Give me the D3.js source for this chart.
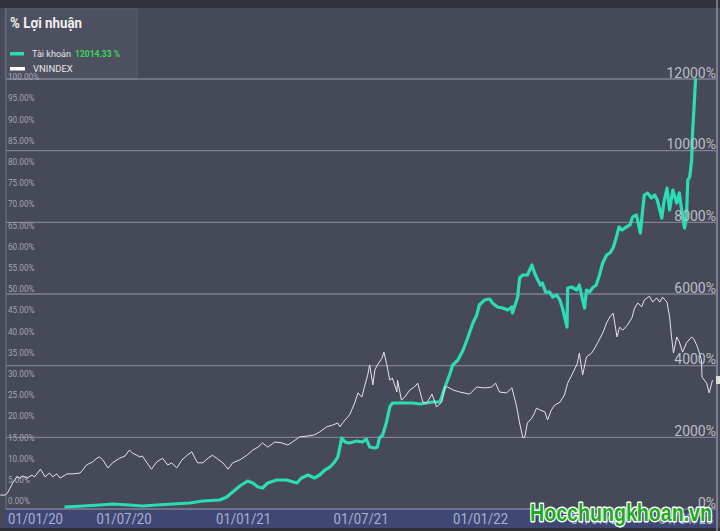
<!DOCTYPE html>
<html><head><meta charset="utf-8">
<script src="https://cdn.jsdelivr.net/npm/d3@7"></script>
<style>
html,body{margin:0;padding:0;background:#464957;}
svg{display:block;font-family:Roboto,"Noto Sans",sans-serif;}
</style></head><body>
<svg id="c" width="720" height="531"></svg>
<script>
const legendTitle = "% Lợi nhuận";
const seriesNames = ["Tài khoản", "VNINDEX"];
const lastReturnLabel = "12014.33 %";
const watermark = "Hocchungkhoan.vn";

const leftTicks = [0,5,10,15,20,25,30,35,40,45,50,55,60,65,70,75,80,85,90,95,100];
const rightTicks = [0,2000,4000,6000,8000,10000,12000];
const xTicks = ["2020-01-01","2020-07-01","2021-01-01","2021-07-01","2022-01-01","2022-07-01","2023-01-01"];

const vnDates = ["2019-12-24","2020-01-01","2020-01-05","2020-01-13","2020-01-19","2020-01-23","2020-01-28","2020-02-03","2020-02-11","2020-02-15",
"2020-02-24","2020-03-02","2020-03-09","2020-03-14","2020-03-20","2020-03-25","2020-04-05","2020-04-14","2020-04-25","2020-04-29",
"2020-05-05","2020-05-14","2020-05-21","2020-05-25","2020-05-30","2020-06-07","2020-06-14","2020-06-25","2020-07-03","2020-07-10",
"2020-07-15","2020-07-26","2020-07-30","2020-08-06","2020-08-13","2020-08-21","2020-08-30","2020-09-07","2020-09-13","2020-09-21",
"2020-09-29","2020-10-07","2020-10-14","2020-10-19","2020-10-23","2020-10-31","2020-11-08","2020-11-15","2020-11-23","2020-12-01",
"2020-12-09","2020-12-16","2020-12-27",
"2021-01-07","2021-01-16","2021-01-24","2021-01-31","2021-02-08","2021-02-19","2021-03-02","2021-03-11","2021-03-18","2021-03-29",
"2021-04-09","2021-04-21","2021-04-29","2021-05-10","2021-05-19","2021-05-27","2021-05-30","2021-06-07","2021-06-14","2021-06-22",
"2021-06-27","2021-07-03","2021-07-07","2021-07-12","2021-07-15","2021-07-20","2021-07-23","2021-07-27","2021-08-03","2021-08-06",
"2021-08-10","2021-08-15","2021-08-19","2021-08-26","2021-08-27","2021-09-02","2021-09-07","2021-09-15","2021-09-22","2021-09-27",
"2021-10-05","2021-10-11","2021-10-19","2021-10-26","2021-11-03","2021-11-08","2021-11-12","2021-11-20","2021-12-01","2021-12-16",
"2021-12-27",
"2022-01-05","2022-01-11","2022-01-19","2022-01-25","2022-01-31","2022-02-11","2022-02-19","2022-02-26","2022-03-03","2022-03-08",
"2022-03-11","2022-03-15","2022-03-22","2022-03-26","2022-03-29","2022-04-03","2022-04-11","2022-04-15","2022-04-21","2022-04-26",
"2022-05-04","2022-05-11","2022-05-16","2022-05-24","2022-05-31","2022-06-03","2022-06-08","2022-06-14","2022-06-22","2022-06-27",
"2022-07-01","2022-07-09","2022-07-15","2022-07-20","2022-07-25","2022-07-31","2022-08-04","2022-08-09","2022-08-16","2022-08-23",
"2022-08-27","2022-09-01","2022-09-07","2022-09-11","2022-09-19","2022-09-24","2022-09-30","2022-10-05","2022-10-09","2022-10-16",
"2022-10-20","2022-10-23","2022-10-26","2022-10-31","2022-11-04","2022-11-09","2022-11-15","2022-11-23","2022-11-27","2022-12-02",
"2022-12-08","2022-12-09","2022-12-16","2022-12-20","2022-12-25"];
const vnValues = [1.4,1.4,2.1,4.5,5.7,5.4,5.9,5.4,6.1,5.7,
7.5,5.7,6.6,5.7,6.4,5.4,6.4,6.4,6.6,7.3,
8.5,9.2,10.1,10.4,9.7,7.8,9.0,10.1,10.6,12.0,
11.3,10.4,10.6,9.0,7.5,9.2,10.1,8.5,9.0,7.8,
9.7,10.8,11.6,10.1,9.0,9.0,10.1,10.8,9.9,9.0,
7.5,9.0,9.7,
10.8,12.0,12.7,13.7,12.7,13.9,13.7,13.2,13.9,15.1,
15.3,15.6,16.3,17.5,17.9,18.4,17.5,19.1,20.3,23.1,
25.5,24.5,26.9,29.7,32.1,27.4,30.9,32.1,33.7,35.1,
32.5,28.5,29.0,25.7,28.5,23.8,24.5,26.2,26.9,27.8,
23.3,23.1,25.2,22.2,23.3,26.9,26.9,26.2,25.7,25.2,
26.9,
26.7,26.7,26.9,27.8,25.7,25.5,26.7,22.6,18.4,14.9,
15.1,18.4,19.6,20.8,21.9,21.5,21.0,19.1,21.5,22.6,
23.3,25.0,27.8,30.2,32.5,34.9,29.7,34.0,34.9,36.1,
37.3,39.6,42.0,43.4,44.3,38.7,41.0,40.3,41.5,43.2,
45.5,46.7,45.8,47.4,48.3,46.9,47.9,46.9,48.1,46.9,
43.4,38.7,34.9,38.7,37.5,35.1,37.3,38.7,38.0,36.3,
33.3,29.2,27.8,25.5,28.5];

const accDates = ["2020-04-01","2020-04-29","2020-05-25","2020-06-14","2020-07-10","2020-07-30","2020-08-21","2020-09-15","2020-10-11","2020-10-31",
"2020-11-26","2020-12-07","2020-12-16","2020-12-27","2021-01-08","2021-01-16","2021-01-24","2021-01-31","2021-02-08","2021-02-22",
"2021-03-09","2021-03-25","2021-04-01","2021-04-11","2021-04-21","2021-04-29","2021-05-07","2021-05-15","2021-05-22","2021-05-27",
"2021-06-02","2021-06-07","2021-06-14","2021-06-25","2021-07-04","2021-07-10","2021-07-15","2021-07-23","2021-07-27","2021-07-30",
"2021-08-04","2021-08-10","2021-08-15","2021-08-19","2021-08-30","2021-09-10","2021-09-19","2021-09-30","2021-10-11","2021-10-20",
"2021-10-31","2021-11-03","2021-11-08","2021-11-15","2021-11-20","2021-11-28","2021-12-06","2021-12-13","2021-12-21","2021-12-27",
"2021-12-31","2022-01-08","2022-01-16","2022-01-20","2022-01-28","2022-02-05","2022-02-13","2022-02-19","2022-02-20","2022-02-23",
"2022-02-28","2022-03-03","2022-03-08","2022-03-15","2022-03-22","2022-03-26","2022-03-31","2022-04-04","2022-04-07","2022-04-12",
"2022-04-18","2022-04-23","2022-04-29","2022-05-04","2022-05-08","2022-05-15","2022-05-16","2022-05-22","2022-05-30","2022-06-03",
"2022-06-08","2022-06-11","2022-06-14","2022-06-19","2022-06-23","2022-06-29","2022-07-04","2022-07-09","2022-07-15","2022-07-20",
"2022-07-25","2022-07-31","2022-08-03","2022-08-08","2022-08-12","2022-08-20","2022-08-24","2022-08-30","2022-09-05","2022-09-08",
"2022-09-11","2022-09-16","2022-09-22","2022-09-27","2022-10-01","2022-10-08","2022-10-11","2022-10-16","2022-10-20","2022-10-25",
"2022-10-31","2022-11-04","2022-11-09","2022-11-12","2022-11-15","2022-11-17","2022-11-20","2022-11-23","2022-11-24","2022-11-27",
"2022-11-29"];
const accValues = [56,84,112,140,112,84,112,140,167,223,
251,335,474,642,781,726,614,586,726,809,
809,726,865,949,865,949,1088,1172,1312,1451,
1981,1870,1842,1898,1870,1953,1730,1702,1730,1981,
2065,2428,2847,2958,2958,2958,2958,2930,2958,2986,
2986,3126,3405,3740,4019,4158,4437,4772,5191,5414,
5693,5833,5860,5749,5637,5609,5553,5637,5470,5637,
5916,6447,6530,6530,6809,6586,6391,6251,6307,6056,
6056,5916,5972,5833,5609,5079,6167,6195,6112,6251,
5833,5609,6112,6056,6167,6251,6530,6865,7088,7144,
7284,7647,7870,7786,7842,7926,8149,8205,7702,8260,
8763,8819,8679,8763,8623,8121,8540,8958,8344,8902,
8540,8819,8149,7842,8149,9181,9265,9740,10381,11330,
12014.33];

const parse = d3.timeParse("%Y-%m-%d");
const vnData = vnDates.map((d,i)=>({date:parse(d), v:vnValues[i]}));
const accData = accDates.map((d,i)=>({date:parse(d), v:accValues[i]}));

const svg = d3.select("#c");
const x = d3.scaleTime().domain([parse("2020-01-01"), parse("2023-01-01")]).range([5.4, 717]);
const yR = d3.scaleLinear().domain([0,12000]).range([509,79]);
const yL = d3.scaleLinear().domain([0,100]).range([501,77]);

// backgrounds
svg.append("rect").attr("width",720).attr("height",531).attr("fill","#464957");
svg.append("rect").attr("width",720).attr("height",8).attr("fill","#30323c");
svg.append("rect").attr("x",5).attr("y",9).attr("width",132).attr("height",70)
  .attr("fill","#4d505f").attr("stroke","#5b5e6d").attr("stroke-width",1);
svg.append("rect").attr("x",5).attr("y",509).attr("width",711).attr("height",19).attr("fill","#3f4872");
svg.append("rect").attr("x",0).attr("y",528).attr("width",720).attr("height",3).attr("fill","#2d2f37");

// gridlines
svg.append("g").selectAll("line").data(rightTicks).join("line")
  .attr("x1",6).attr("x2",716).attr("y1",d=>yR(d)).attr("y2",d=>yR(d))
  .attr("stroke","#8a8d9e").attr("stroke-width",1.3).attr("opacity",0.85);

// frame lines
svg.append("line").attr("x1",6).attr("x2",6).attr("y1",9).attr("y2",509).attr("stroke","#72758a").attr("stroke-width",1);
svg.append("line").attr("x1",717).attr("x2",717).attr("y1",0).attr("y2",531).attr("stroke","#8e91a0").attr("stroke-width",1.5);

// left axis
const gL = svg.append("g").attr("transform","translate(7,0)")
  .call(d3.axisRight(yL).tickValues(leftTicks).tickSize(0).tickPadding(1).tickFormat(d=>d.toFixed(2)+"%"));
gL.select(".domain").remove();
gL.selectAll("text").attr("fill","#a3a6b4").attr("font-size","8.2px").attr("font-family","Roboto,sans-serif");

// x axis
const xTickDates = xTicks.map(parse);
const gX = svg.append("g").attr("transform","translate(0,509)")
  .call(d3.axisBottom(x).tickValues(xTickDates).tickSize(0).tickFormat(d3.timeFormat("%d/%m/%y")));
gX.select(".domain").remove();
gX.selectAll("text").attr("y",0).attr("dy",15).attr("fill","#a9b1d4")
  .attr("font-size","14.5px").attr("font-family","Roboto,sans-serif")
  .attr("textLength",55).attr("lengthAdjust","spacingAndGlyphs");
const xt = gX.selectAll("text").nodes();
d3.select(xt[0]).attr("text-anchor","start").attr("x",2);
d3.select(xt[xt.length-1]).attr("text-anchor","end").attr("x",-4);

// lines
svg.append("path").datum(accData)
  .attr("d", d3.line().x(d=>x(d.date)).y(d=>yR(d.v)))
  .attr("fill","none").attr("stroke","#2bdcb4").attr("stroke-width",3.2).attr("stroke-linejoin","round");
svg.append("path").datum(vnData)
  .attr("d", d3.line().x(d=>x(d.date)).y(d=>yL(d.v)))
  .attr("fill","none").attr("stroke","#e4e4ea").attr("stroke-width",1).attr("stroke-linejoin","round");

// right axis
const gR = svg.append("g").attr("transform","translate(716,0)")
  .call(d3.axisLeft(yR).tickValues(rightTicks).tickSize(0).tickPadding(0).tickFormat(d=>d+"%"));
gR.select(".domain").remove();
gR.selectAll("text").attr("dy",-2).attr("fill","#c2c4cd").attr("font-size","14px")
  .attr("font-family","Roboto,sans-serif").attr("opacity",0.95);

// right marker
svg.append("rect").attr("x",716).attr("y",376).attr("width",4).attr("height",8).attr("fill","#dddde2");

// legend
svg.append("text").attr("x",10).attr("y",28).text(legendTitle)
  .attr("fill","#f0f0f2").attr("font-weight","bold").attr("font-size","14px")
  .attr("textLength",72).attr("lengthAdjust","spacingAndGlyphs");
svg.append("rect").attr("x",10).attr("y",52).attr("width",14).attr("height",3.5).attr("fill","#2bdcb4");
svg.append("rect").attr("x",10).attr("y",67).attr("width",15).attr("height",3.5).attr("fill","#ffffff");
svg.append("text").attr("x",32).attr("y",57).text(seriesNames[0]).attr("fill","#e6e6ea").attr("font-size","9px")
  .attr("textLength",39).attr("lengthAdjust","spacingAndGlyphs");
svg.append("text").attr("x",75).attr("y",57).text(lastReturnLabel).attr("fill","#3ed45e").attr("font-size","9px").attr("font-weight","bold")
  .attr("textLength",45).attr("lengthAdjust","spacingAndGlyphs");
svg.append("text").attr("x",33).attr("y",72).text(seriesNames[1]).attr("fill","#e6e6ea").attr("font-size","9.5px");

// watermark
svg.append("text").attr("x",530).attr("y",521).text(watermark)
  .attr("font-family","'Liberation Sans',Arial,sans-serif").attr("font-weight","bold").attr("font-size","24.5px")
  .attr("fill","#1eaa22").attr("stroke","#ffffff").attr("stroke-width",2.8).attr("paint-order","stroke")
  .attr("stroke-linejoin","round")
  .attr("textLength",182).attr("lengthAdjust","spacingAndGlyphs");
</script>
</body></html>
